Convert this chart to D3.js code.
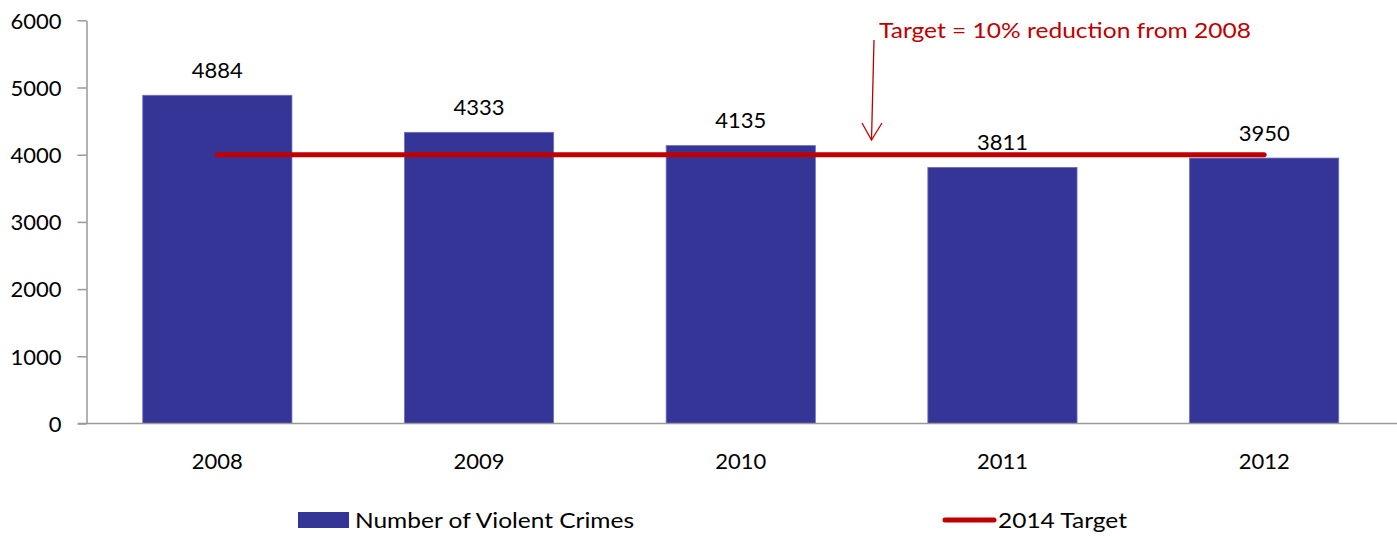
<!DOCTYPE html>
<html><head><meta charset="utf-8">
<script src="https://cdn.jsdelivr.net/npm/d3@7"></script>
<style>body{margin:0;background:#fff}svg{display:block}text{font-family:Lato,"Open Sans",sans-serif}</style>
</head><body>
<script>
const years = ["2008","2009","2010","2011","2012"];
const crimes = [4884, 4333, 4135, 3811, 3950];
const target = [4000, 4000, 4000, 4000, 4000];
const yTicks = [0,1000,2000,3000,4000,5000,6000];
const seriesNames = ["Number of Violent Crimes","2014 Target"];
const annotation = "Target = 10% reduction from 2008";

const W=1397,H=536;
const svg=d3.select("body").append("svg").attr("width",W).attr("height",H);
const x=d3.scaleBand().domain(years).range([86.5,1395]).paddingInner(0.43).paddingOuter(0.215);
const y=d3.scaleLinear().domain([0,6000]).range([423.5,20.3]);
const blue="#353597", red="#C00000";

// y axis
const ya=svg.append("g").attr("transform","translate(86.5,0)")
  .call(d3.axisLeft(y).tickValues(yTicks).tickSize(9).tickSizeOuter(0).tickFormat(d3.format("d")));
ya.select(".domain").attr("stroke","#999").attr("stroke-width",1.5);
ya.selectAll(".tick line").attr("stroke","#999").attr("stroke-width",1.5);
ya.selectAll(".tick text").attr("font-size",22).attr("fill","#000").attr("x",-25).attr("dy","0.35em")
  .style("font-family","Lato,sans-serif");

// bars
svg.selectAll("rect.bar").data(crimes).join("rect").attr("class","bar")
  .attr("x",(d,i)=>x(years[i])).attr("width",x.bandwidth())
  .attr("y",d=>y(d)).attr("height",d=>y(0)-y(d))
  .attr("fill",blue).attr("stroke","#6c6cc0").attr("stroke-width",0.8);

// x axis
const xa=svg.append("g").attr("transform",`translate(0,${y(0)})`)
  .call(d3.axisBottom(x).tickSize(0).tickSizeOuter(0));
xa.select(".domain").attr("stroke","#999").attr("stroke-width",1.5).attr("d","M78,0H1397");
xa.selectAll(".tick text").attr("font-size",22).attr("fill","#000").attr("y",30)
  .style("font-family","Lato,sans-serif");

// value labels
svg.selectAll("text.val").data(crimes).join("text").attr("class","val")
  .attr("x",(d,i)=>x(years[i])+x.bandwidth()/2).attr("y",d=>y(d)-17.5)
  .attr("text-anchor","middle").attr("font-size",22).attr("fill","#000").text(d=>d);

// target line
const line=d3.line().x((d,i)=>x(years[i])+x.bandwidth()/2).y(d=>y(d));
svg.append("path").datum(target).attr("d",line).attr("fill","none")
  .attr("stroke",red).attr("stroke-width",5).attr("stroke-linecap","round");

// annotation
svg.append("text").attr("x",879).attr("y",38).attr("font-size",22).attr("fill",red)
  .attr("textLength",372).attr("lengthAdjust","spacingAndGlyphs").text(annotation);
svg.append("path").attr("d","M874,40L871.5,140").attr("stroke",red).attr("stroke-width",1.3).attr("fill","none");
svg.append("path").attr("d","M862,123L871.5,140L882,123").attr("stroke",red).attr("stroke-width",1.3).attr("fill","none");

// legend
svg.append("rect").attr("x",298).attr("y",512).attr("width",51).attr("height",16).attr("fill",blue);
svg.append("text").attr("x",355).attr("y",528).attr("font-size",22).attr("fill","#000")
  .attr("textLength",279).attr("lengthAdjust","spacingAndGlyphs").text(seriesNames[0]);
svg.append("line").attr("x1",945).attr("x2",994).attr("y1",520).attr("y2",520)
  .attr("stroke",red).attr("stroke-width",5).attr("stroke-linecap","round");
svg.append("text").attr("x",998).attr("y",528).attr("font-size",22).attr("fill","#000")
  .attr("textLength",129).attr("lengthAdjust","spacingAndGlyphs").text(seriesNames[1]);
</script>
</body></html>
